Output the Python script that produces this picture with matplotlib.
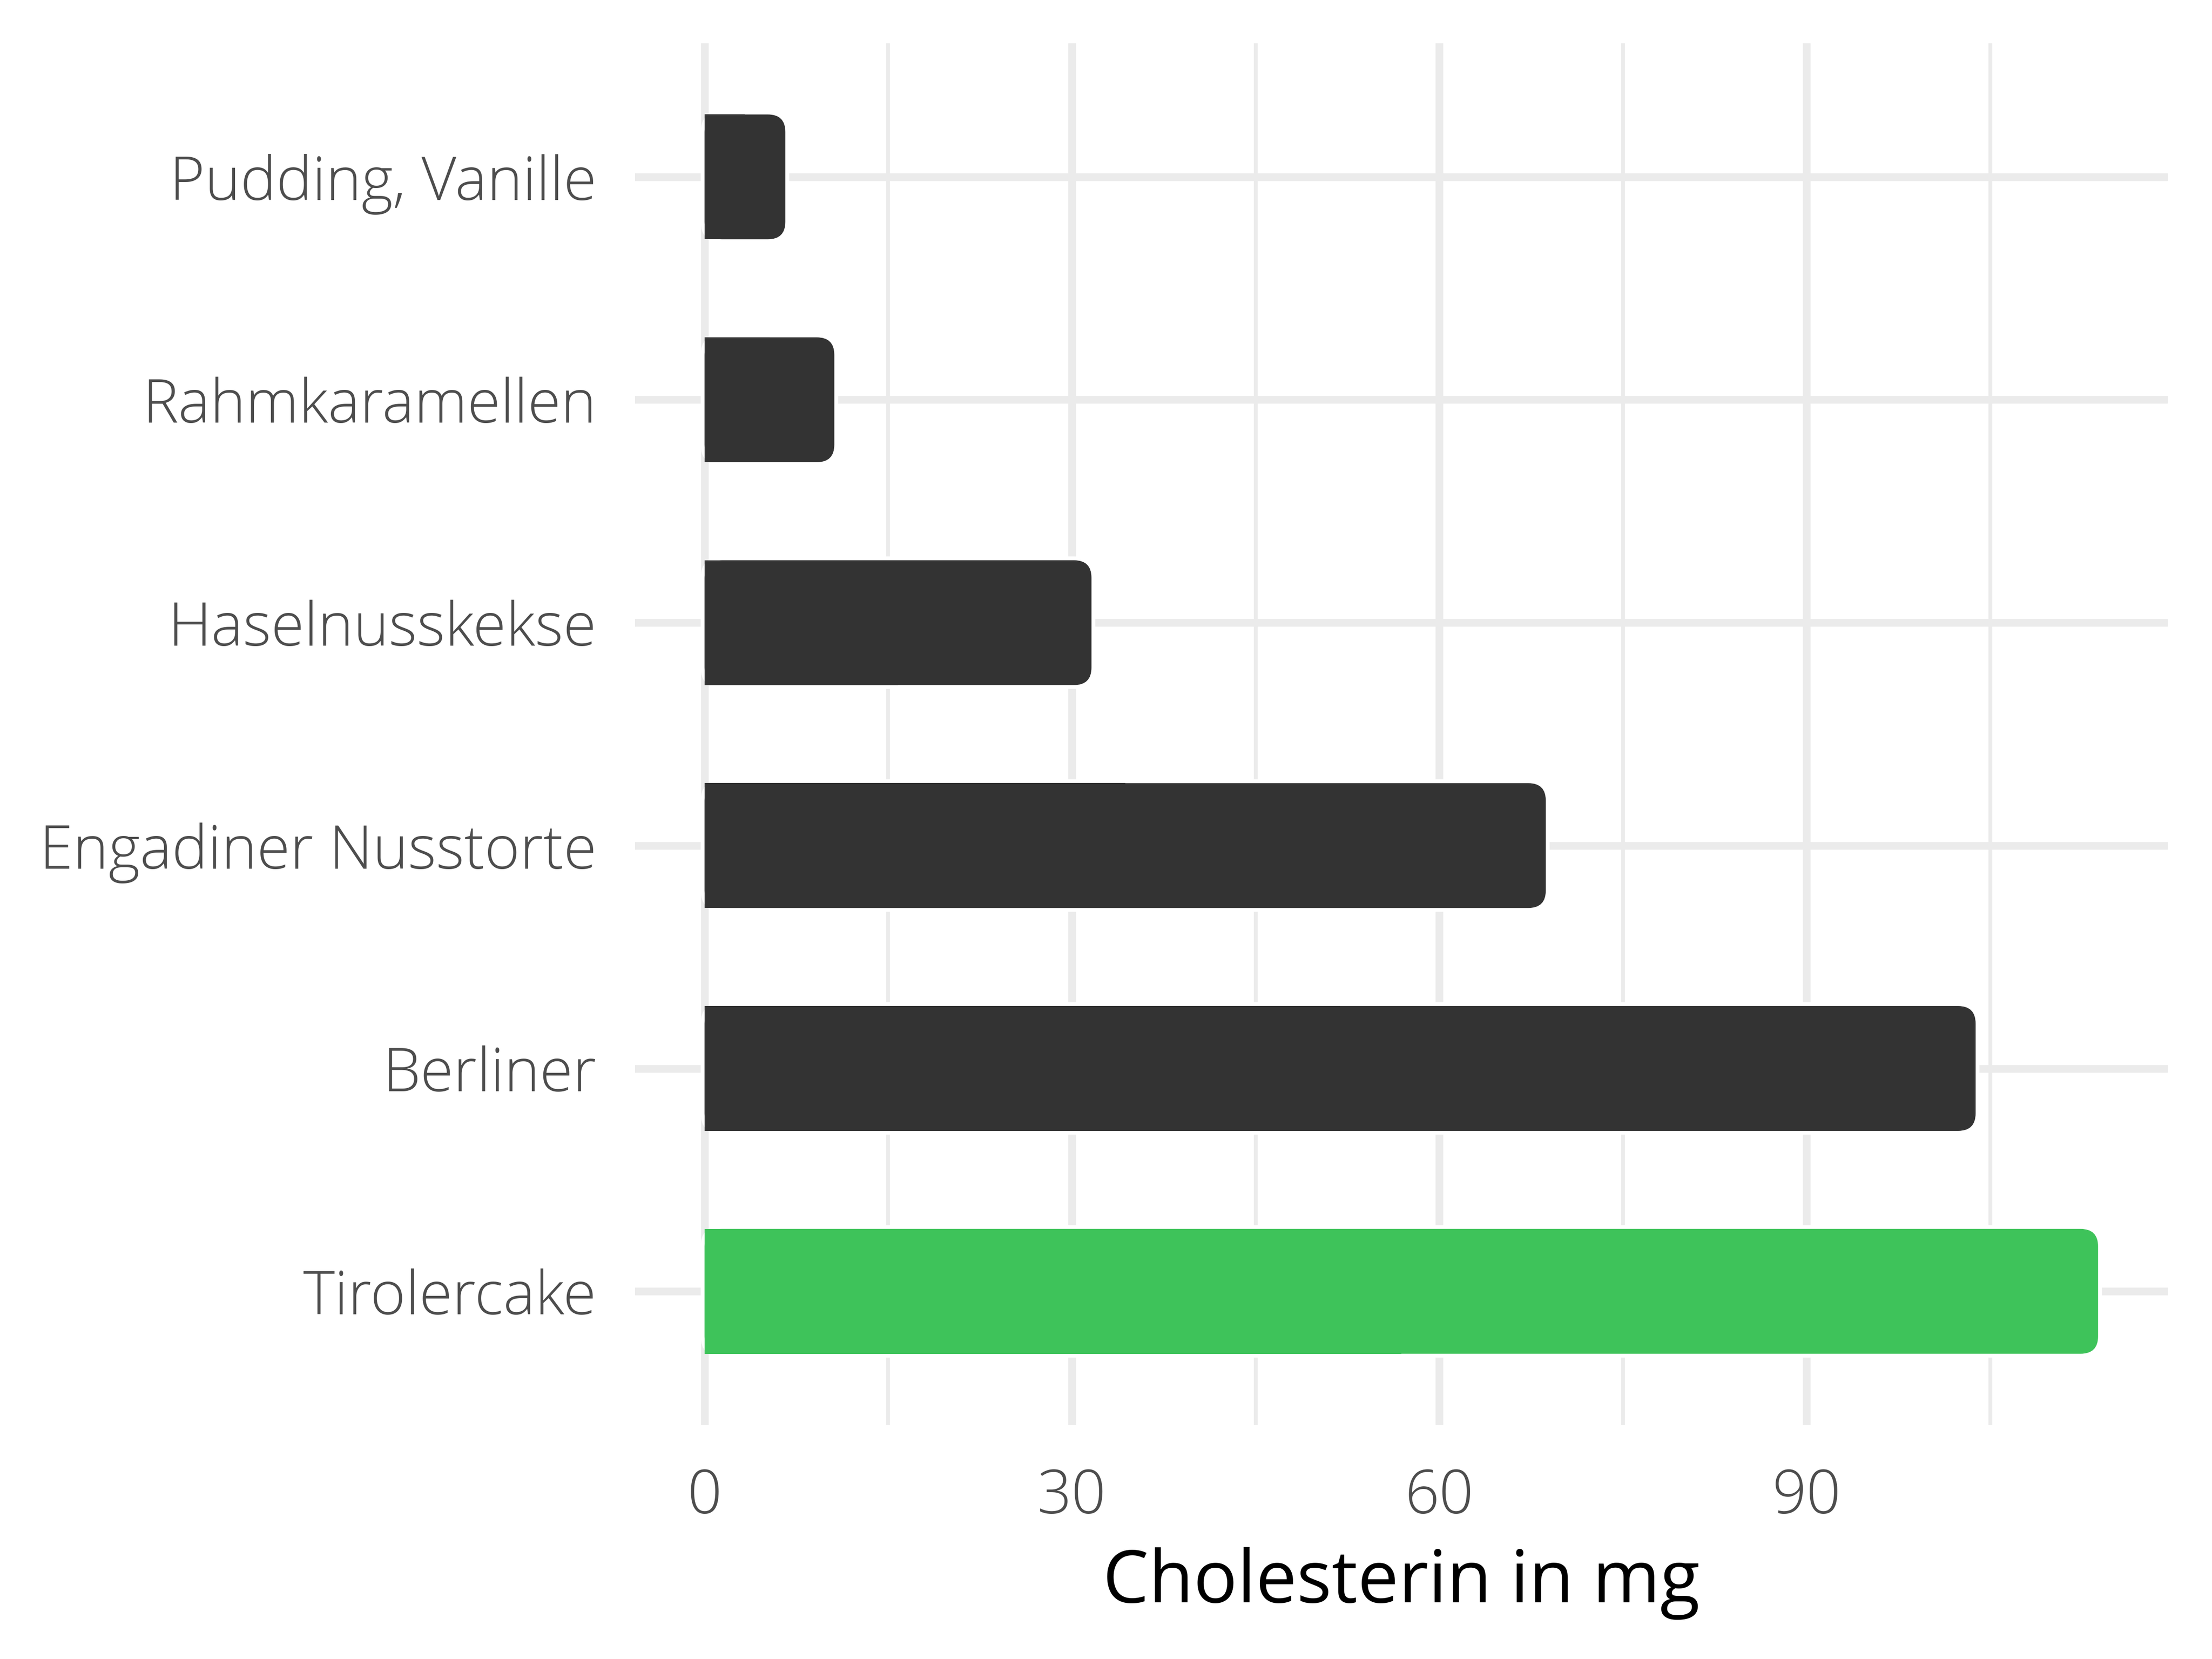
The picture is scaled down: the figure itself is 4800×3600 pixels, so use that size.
import matplotlib
matplotlib.use('Agg')
import matplotlib.pyplot as plt
import numpy as np
from matplotlib.patches import FancyBboxPatch

plt.rcParams['font.family'] = 'Open Sans'
plt.rcParams['font.weight'] = 'light'

# data
foods = ['Tirolercake', 'Berliner', 'Engadiner Nusstorte', 'Haselnusskekse',
         'Rahmkaramellen', 'Pudding, Vanille']
cholesterol = [113.8, 103.8, 68.7, 31.6, 10.6, 6.6]
bar_colors = ['#3ec35a', '#333333', '#333333', '#333333', '#333333', '#333333']
x_ticks = [0, 30, 60, 90]
x_minor = [15, 45, 75, 105]

fig = plt.figure(figsize=(16, 12), dpi=300)
ax = fig.add_axes([0.287, 0.141, 0.693, 0.833])

ypos = np.arange(1, len(foods) + 1)
vals = np.array(cholesterol)
ax.set_xlim(-0.05 * vals.max(), vals.max() * 1.05)
ax.set_ylim(0.4, len(foods) + 0.6)

# grid
grid_c = '#ebebeb'
for x in x_ticks:
    ax.axvline(x, color=grid_c, lw=4, zorder=0)
for x in x_minor:
    ax.axvline(x, color=grid_c, lw=2, zorder=0)
for y in ypos:
    ax.axhline(y, color=grid_c, lw=4, zorder=0)

# rounded bars: white halo behind, coloured fill on top, square left end
fig.canvas.draw()
p0 = ax.transData.transform((0, 0))
p1 = ax.transData.transform((1, 1))
px_x = p1[0] - p0[0]
px_y = p1[1] - p0[1]
radius_px = 38
bh = 0.56
for y, v, c in zip(ypos, vals, bar_colors):
    for fc, ec, lw, z in [('white', 'white', 4, 1), (c, 'none', 0, 2)]:
        patch = FancyBboxPatch((0, y - bh / 2), v, bh,
                               boxstyle='round,pad=0,rounding_size=%f' % (radius_px / px_x),
                               mutation_aspect=px_x / px_y,
                               facecolor=fc, edgecolor=ec, linewidth=lw, zorder=z)
        ax.add_patch(patch)
ax.barh(ypos, vals / 2, height=bh, color=bar_colors, linewidth=0, zorder=3)

ax.set_yticks(ypos)
ax.set_yticklabels(foods)
ax.set_xticks(x_ticks)
ax.set_xticklabels([str(t) for t in x_ticks])
ax.tick_params(axis='both', length=0, labelsize=31.4, labelcolor='#4d4d4d')
ax.tick_params(axis='y', pad=20)
ax.tick_params(axis='x', pad=22)
ax.set_xlabel('Cholesterin in mg', fontsize=38, color='black', labelpad=10)
for s in ax.spines.values():
    s.set_visible(False)

fig.savefig('out.png', dpi=300, facecolor='white')
